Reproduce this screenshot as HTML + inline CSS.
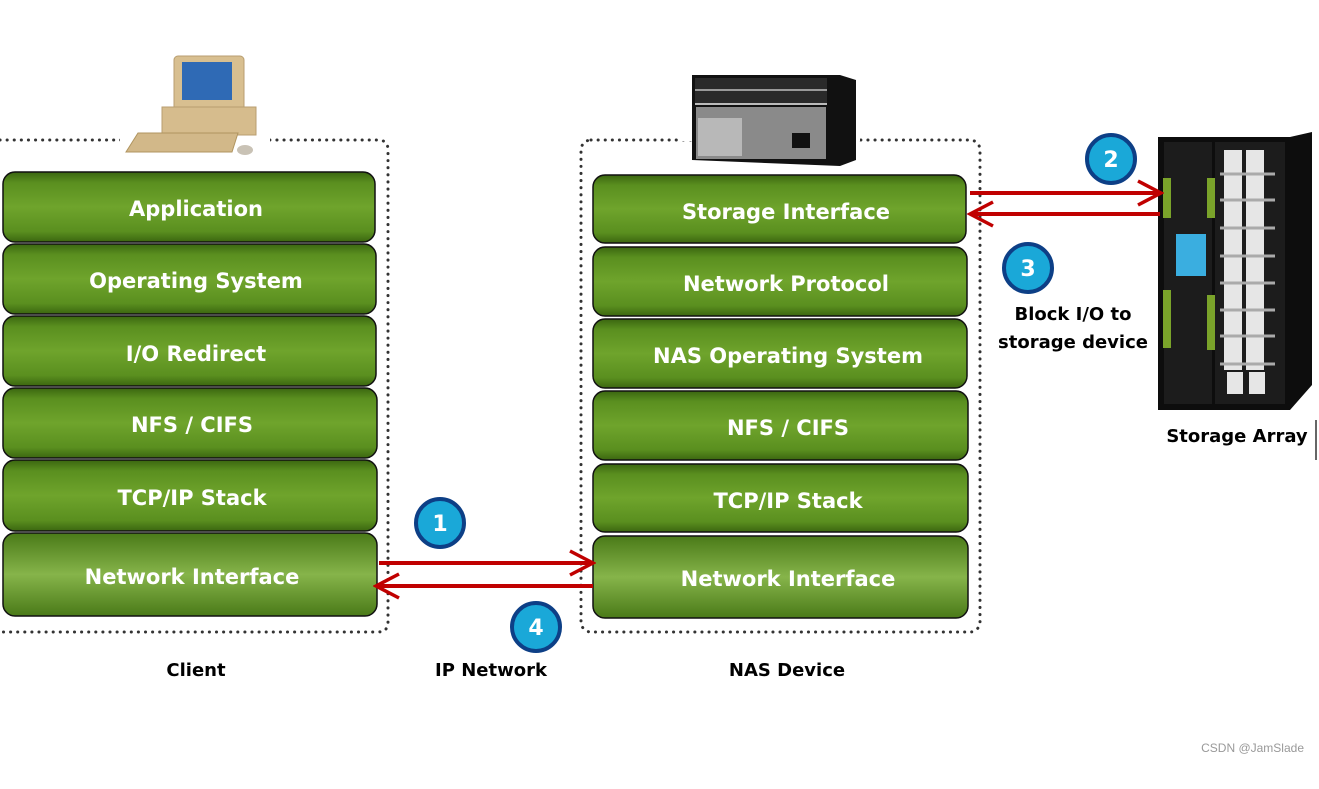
<!DOCTYPE html>
<html><head><meta charset="utf-8"><style>
html,body{margin:0;padding:0;background:#fff;}
svg{display:block}
.t{font-family:"DejaVu Sans","Liberation Sans",sans-serif;font-weight:bold;fill:#fff;font-size:21px;text-anchor:middle;}
.k{font-family:"DejaVu Sans","Liberation Sans",sans-serif;font-weight:bold;fill:#000;font-size:18px;text-anchor:middle;}
.n{font-family:"DejaVu Sans","Liberation Sans",sans-serif;font-weight:bold;fill:#fff;font-size:22px;text-anchor:middle;}
</style></head><body>
<svg width="1319" height="789" viewBox="0 0 1319 789" xmlns="http://www.w3.org/2000/svg">
<defs>
<linearGradient id="g" x1="0" y1="0" x2="0" y2="1">
<stop offset="0" stop-color="#3b6610"/><stop offset="0.15" stop-color="#5a8f1f"/><stop offset="0.5" stop-color="#6fa42c"/><stop offset="0.85" stop-color="#5a8f1f"/><stop offset="1" stop-color="#3b6610"/>
</linearGradient>
<linearGradient id="g2" x1="0" y1="0" x2="0" y2="1">
<stop offset="0" stop-color="#4a7a18"/><stop offset="0.5" stop-color="#86b44a"/><stop offset="1" stop-color="#4a7a18"/>
</linearGradient>
<marker id="ah" markerWidth="28" markerHeight="28" refX="24" refY="14" orient="auto" markerUnits="userSpaceOnUse">
<path d="M2,2 L25,14 L2,26" fill="none" stroke="#c00000" stroke-width="3.5"/></marker>
</defs>
<path d="M0,140 H378 Q388,140 388,150 V622 Q388,632 378,632 H0" fill="none" stroke="#333" stroke-width="3" stroke-dasharray="0.1 7" stroke-linecap="round"/>
<rect x="581" y="140" width="399" height="492" rx="10" fill="none" stroke="#333" stroke-width="3" stroke-dasharray="0.1 7" stroke-linecap="round"/>
<rect x="120" y="50" width="150" height="95" fill="#fff"/>
<rect x="174" y="56" width="70" height="56" rx="4" fill="#d8bf90" stroke="#b89e70"/>
<rect x="182" y="62" width="50" height="38" fill="#2f6ab5"/>
<rect x="162" y="107" width="94" height="28" fill="#d6bc8d" stroke="#b89e70"/>
<polygon points="138,133 238,133 232,152 126,152" fill="#d2b889" stroke="#b09560"/>
<ellipse cx="245" cy="150" rx="8" ry="5" fill="#c9c2b5"/>
<rect x="680" y="65" width="180" height="76" fill="#fff"/>
<polygon points="692,75 840,75 856,80 856,160 840,166 692,160" fill="#111"/>
<rect x="695" y="78" width="132" height="27" fill="#2a2a2a"/>
<line x1="695" y1="90" x2="827" y2="90" stroke="#999" stroke-width="2"/>
<line x1="695" y1="104" x2="827" y2="104" stroke="#bbb" stroke-width="2"/>
<rect x="696" y="107" width="130" height="52" fill="#8a8a8a"/>
<rect x="698" y="118" width="44" height="38" fill="#b8b8b8"/>
<rect x="792" y="133" width="18" height="15" fill="#111"/>
<polygon points="1158,137 1290,137 1312,132 1312,385 1290,410 1158,410" fill="#0d0d0d"/>
<rect x="1164" y="142" width="48" height="262" fill="#1c1c1c"/>
<rect x="1215" y="142" width="70" height="262" fill="#1c1c1c"/>
<rect x="1163" y="178" width="8" height="40" fill="#7aa32a"/><rect x="1207" y="178" width="8" height="40" fill="#7aa32a"/>
<rect x="1163" y="290" width="8" height="58" fill="#7aa32a"/><rect x="1207" y="295" width="8" height="55" fill="#7aa32a"/>
<rect x="1176" y="234" width="30" height="42" fill="#3aaee0"/>
<g fill="#e6e6e6">
<rect x="1224" y="150" width="18" height="220"/><rect x="1246" y="150" width="18" height="220"/>
<rect x="1227" y="372" width="16" height="22"/><rect x="1249" y="372" width="16" height="22"/>
</g>
<g stroke="#aaa" stroke-width="3"><line x1="1220" y1="174" x2="1275" y2="174"/><line x1="1220" y1="200" x2="1275" y2="200"/><line x1="1220" y1="228" x2="1275" y2="228"/><line x1="1220" y1="256" x2="1275" y2="256"/><line x1="1220" y1="283" x2="1275" y2="283"/><line x1="1220" y1="310" x2="1275" y2="310"/><line x1="1220" y1="336" x2="1275" y2="336"/><line x1="1220" y1="364" x2="1275" y2="364"/></g>
<line x1="1316" y1="420" x2="1316" y2="460" stroke="#666" stroke-width="2"/>
<g stroke="#111" stroke-width="1.5" fill="url(#g)">
<rect x="3" y="172" width="372" height="70" rx="12"/>
<rect x="3" y="244" width="373" height="70" rx="12"/>
<rect x="3" y="316" width="373" height="70" rx="12"/>
<rect x="3" y="388" width="374" height="70" rx="12"/>
<rect x="3" y="460" width="374" height="71" rx="12"/>
<rect x="3" y="533" width="374" height="83" rx="12" fill="url(#g2)"/>
<rect x="593" y="175" width="373" height="68" rx="12"/>
<rect x="593" y="247" width="374" height="69" rx="12"/>
<rect x="593" y="319" width="374" height="69" rx="12"/>
<rect x="593" y="391" width="375" height="69" rx="12"/>
<rect x="593" y="464" width="375" height="68" rx="12"/>
<rect x="593" y="536" width="375" height="82" rx="12" fill="url(#g2)"/>
</g>
<g class="t">
<text x="196" y="216" class="t">Application</text>
<text x="196" y="288" class="t">Operating System</text>
<text x="196" y="361" class="t">I/O Redirect</text>
<text x="192" y="432" class="t">NFS / CIFS</text>
<text x="192" y="505" class="t">TCP/IP Stack</text>
<text x="192" y="584" class="t">Network Interface</text>
<text x="786" y="219" class="t">Storage Interface</text>
<text x="786" y="291" class="t">Network Protocol</text>
<text x="788" y="363" class="t">NAS Operating System</text>
<text x="788" y="435" class="t">NFS / CIFS</text>
<text x="788" y="508" class="t">TCP/IP Stack</text>
<text x="788" y="586" class="t">Network Interface</text>
</g>
<g stroke="#c00000" stroke-width="4" fill="none">
<line x1="379" y1="563" x2="592" y2="563" marker-end="url(#ah)"/>
<line x1="593" y1="586" x2="377" y2="586" marker-end="url(#ah)"/>
<line x1="970" y1="193" x2="1160" y2="193" marker-end="url(#ah)"/>
<line x1="1160" y1="214" x2="971" y2="214" marker-end="url(#ah)"/>
</g>
<g fill="#1aa8d8" stroke="#0d3f86" stroke-width="4">
<circle cx="440" cy="523" r="24"/><circle cx="536" cy="627" r="24"/>
<circle cx="1111" cy="159" r="24"/><circle cx="1028" cy="268" r="24"/>
</g>
<text x="440" y="531" class="n">1</text>
<text x="536" y="635" class="n">4</text>
<text x="1111" y="167" class="n">2</text>
<text x="1028" y="276" class="n">3</text>
<text x="196" y="676" class="k">Client</text>
<text x="491" y="676" class="k">IP Network</text>
<text x="787" y="676" class="k">NAS Device</text>
<text x="1073" y="320" class="k">Block I/O to</text>
<text x="1073" y="348" class="k">storage device</text>
<text x="1237" y="442" class="k">Storage Array</text>
<text x="1304" y="752" style="font-family:'Liberation Sans',sans-serif;font-size:12px;fill:#999;text-anchor:end">CSDN @JamSlade</text>
</svg>
</body></html>
